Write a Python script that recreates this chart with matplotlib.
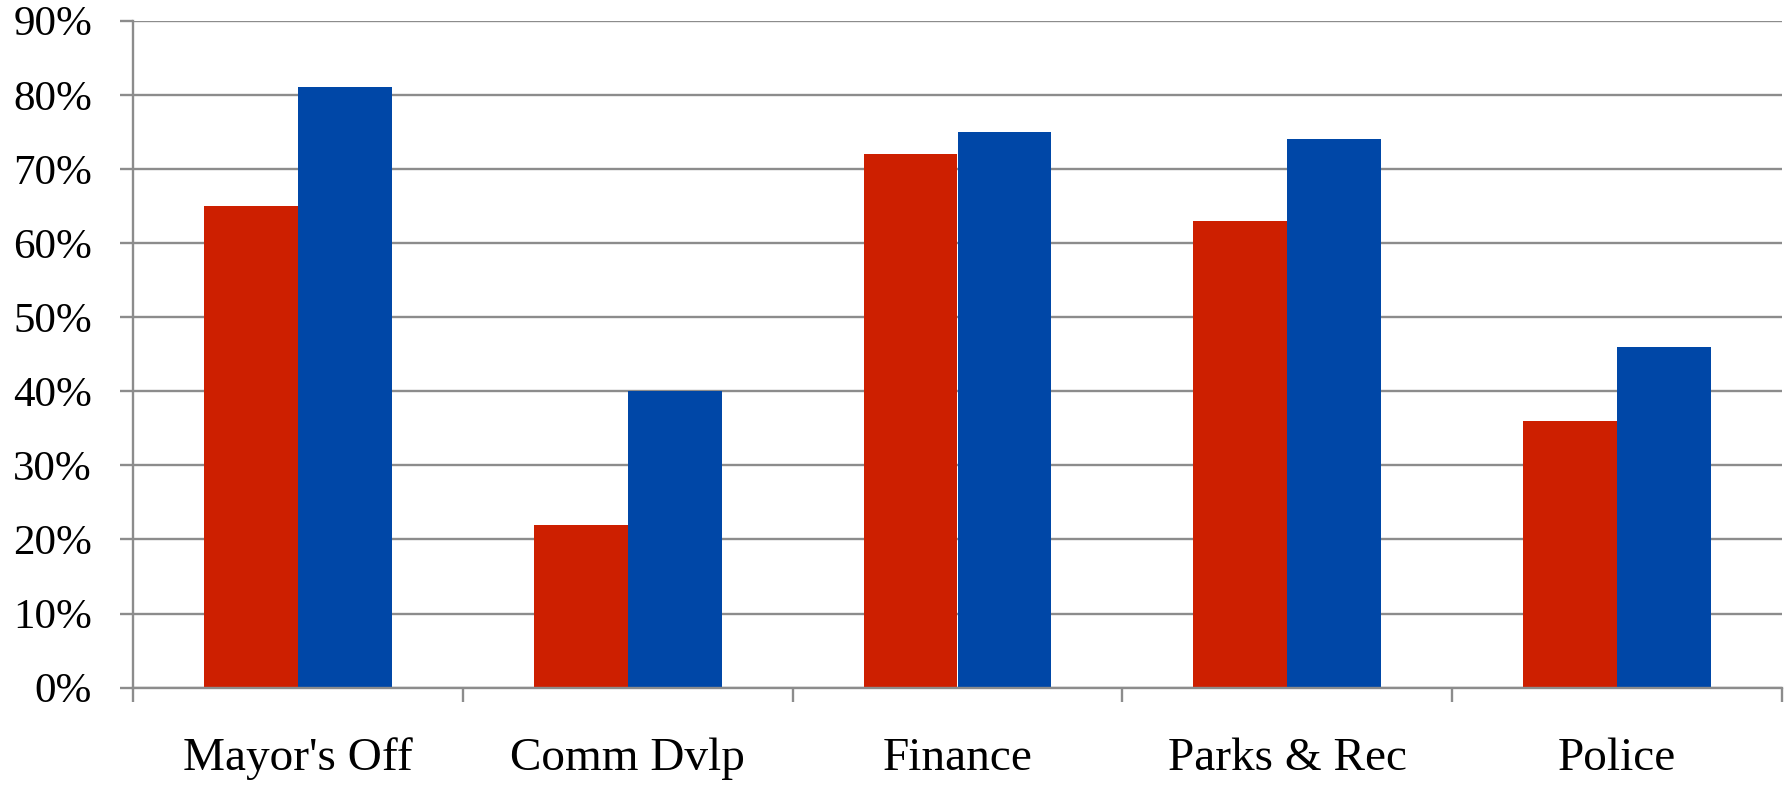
import matplotlib
matplotlib.use("Agg")
import matplotlib.pyplot as plt
import numpy as np
from matplotlib.ticker import FixedLocator, NullFormatter, FuncFormatter

categories = ["Mayor's Off", "Comm Dvlp", "Finance", "Parks & Rec", "Police"]
series_red = [65, 22, 72, 63, 36]
series_blue = [81, 40, 75, 74, 46]
y_ticks = [0, 10, 20, 30, 40, 50, 60, 70, 80, 90]

RED = "#CD1F00"
BLUE = "#0047A7"
GRID = "#8C8C8C"

plt.rcParams['font.family'] = ['Liberation Serif', 'DejaVu Serif']

fig = plt.figure(figsize=(17.88, 7.85), dpi=100)
ax = fig.add_axes([133/1788, (785-687.7)/785, (1782-133)/1788, (687.7-20.7)/785])

x = np.arange(len(categories))
w = 0.285
ax.bar(x - w/2, series_red, width=w, color=RED, zorder=3)
ax.bar(x + w/2, series_blue, width=w, color=BLUE, zorder=3)

ax.set_xlim(-0.5, len(categories) - 0.5)
ax.set_ylim(0, 90)
ax.set_yticks(y_ticks)
ax.yaxis.set_major_formatter(FuncFormatter(lambda v, p: f"{int(v)}%"))
ax.grid(axis='y', color=GRID, linewidth=1.7, zorder=0)

# category boundaries as major ticks, labels at centers (minor)
ax.xaxis.set_major_locator(FixedLocator(np.arange(-0.5, len(categories), 1.0)))
ax.xaxis.set_major_formatter(NullFormatter())
ax.xaxis.set_minor_locator(FixedLocator(x))
ax.set_xticklabels(categories, minor=True)
ax.tick_params(axis='x', which='major', length=10, width=1.7, color=GRID, direction='out')
ax.tick_params(axis='x', which='minor', length=0, pad=36, labelsize=34)
ax.tick_params(axis='y', length=9.5, width=1.7, color=GRID, direction='out', pad=20, labelsize=31)

for s in ['top', 'right']:
    ax.spines[s].set_visible(False)
for s in ['left', 'bottom']:
    ax.spines[s].set_color(GRID)
    ax.spines[s].set_linewidth(1.7)
    ax.spines[s].set_zorder(4)

fig.savefig("out.png", dpi=100)
